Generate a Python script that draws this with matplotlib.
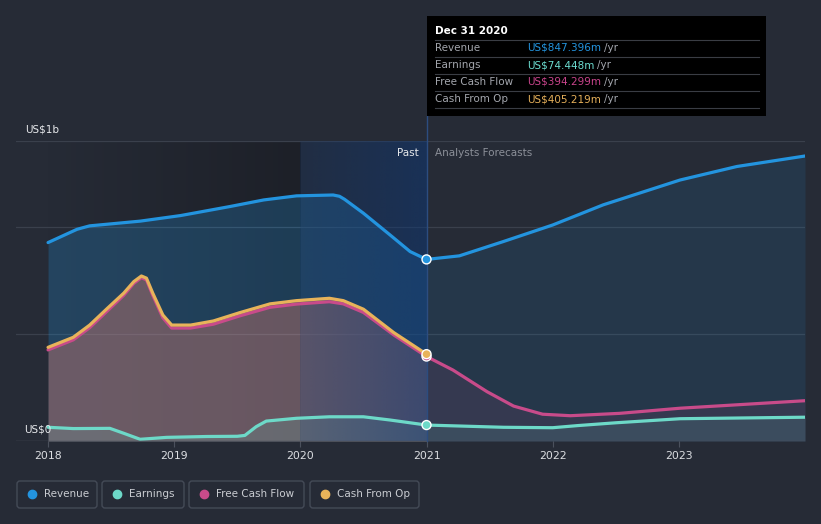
import matplotlib.pyplot as plt
import numpy as np
from matplotlib.patches import FancyBboxPatch, Rectangle
from matplotlib.transforms import IdentityTransform

# values in US$ millions, x in fractional years
rev_past_x = [2018.0, 2018.23, 2018.33, 2018.73, 2019.05, 2019.44, 2019.71, 2019.97, 2020.26, 2020.31, 2020.35, 2020.50, 2020.71, 2020.87, 2021.0]
rev_past_y = [926, 988, 1004, 1026, 1052, 1094, 1125, 1144, 1148, 1142, 1128, 1063, 962, 884, 847.4]
rev_fc_x = [2021.0, 2021.26, 2021.61, 2022.0, 2022.40, 2023.01, 2023.46, 2024.0]
rev_fc_y = [847.4, 864, 931, 1008, 1102, 1218, 1281, 1330]

cfo_x = [2018.0, 2018.20, 2018.33, 2018.47, 2018.60, 2018.68, 2018.74, 2018.78, 2018.83, 2018.91, 2018.98,
         2019.13, 2019.31, 2019.52, 2019.76, 2019.97, 2020.23, 2020.34, 2020.50, 2020.74, 2021.0]
cfo_y = [437, 484, 541, 619, 690, 744, 770, 760, 690, 588, 541, 541, 560, 599, 640, 655, 666, 655, 615, 506, 405.2]
fcf_past_y = [425, 472, 529, 607, 680, 736, 762, 752, 680, 575, 527, 527, 545, 584, 624, 639, 650, 640, 600, 495, 394.3]
fcf_fc_x = [2021.0, 2021.21, 2021.48, 2021.69, 2021.92, 2022.14, 2022.53, 2023.01, 2024.0]
fcf_fc_y = [394.3, 331, 230, 163, 125, 118, 129, 153, 188]

earn_past_x = [2018.0, 2018.20, 2018.49, 2018.60, 2018.73, 2018.94, 2019.26, 2019.50, 2019.56, 2019.65, 2019.73,
               2019.97, 2020.23, 2020.50, 2020.71, 2021.0]
earn_past_y = [64, 58, 59, 36, 8, 17, 21, 22, 26, 67, 93, 106, 113, 113, 98, 74.4]
earn_fc_x = [2021.0, 2021.61, 2022.0, 2022.2, 2022.5, 2023.01, 2024.0]
earn_fc_y = [74.4, 64, 62, 72, 85, 104, 111]

years = [2018, 2019, 2020, 2021, 2022, 2023]

C_REV = '#2394df'
C_EARN = '#6dd9c8'
C_FCF = '#c84b8a'
C_CFO = '#e8b35a'
BG = '#262b36'

W, H = 821, 524


def P(x, y):
    return x / W, 1 - y / H


fig = plt.figure(figsize=(W / 100, H / 100), dpi=100, facecolor=BG)
ax = fig.add_axes([16 / W, 1 - 441 / H, (805 - 16) / W, 300 / H])
ax.set_facecolor(BG)

# past background gradient
n = 400
c0 = np.array([38, 43, 54]) / 255
c1 = np.array([29, 32, 40]) / 255
t = np.linspace(0, 1, n)[:, None]
grad = (c0 * (1 - t) + c1 * t)[None, :, :]
ax.imshow(grad, extent=[2018, 2020, 0, 1400], aspect='auto', zorder=0, interpolation='bilinear')

# highlighted year band
band = np.zeros((1, n, 4))
band[..., :3] = np.array([13, 56, 120]) / 255
band[..., 3] = np.linspace(0.2, 0.5, n)
ax.imshow(band, extent=[2020, 2021, 0, 1400], aspect='auto', zorder=3, interpolation='bilinear')

# fills
ax.fill_between(rev_past_x, rev_past_y, 0, color=C_REV, alpha=0.25, lw=0, zorder=1)
ax.fill_between(rev_fc_x, rev_fc_y, 0, color=C_REV, alpha=0.12, lw=0, zorder=1)
ax.fill_between(cfo_x, fcf_past_y, 0, color=C_FCF, alpha=0.25, lw=0, zorder=2)
ax.fill_between(cfo_x, cfo_y, 0, color=C_CFO, alpha=0.2, lw=0, zorder=2)
ax.fill_between(fcf_fc_x, fcf_fc_y, 0, color=C_FCF, alpha=0.1, lw=0, zorder=2)
ax.fill_between(earn_past_x, earn_past_y, 0, color=C_EARN, alpha=0.15, lw=0, zorder=2)
ax.fill_between(earn_fc_x, earn_fc_y, 0, color=C_EARN, alpha=0.12, lw=0, zorder=2)

# lines
lk = dict(lw=2.3, zorder=5, solid_joinstyle='round', solid_capstyle='round')
ax.plot(rev_past_x, rev_past_y, color=C_REV, **lk)
ax.plot(rev_fc_x, rev_fc_y, color=C_REV, **lk)
ax.plot(cfo_x, fcf_past_y, color=C_FCF, **lk)
ax.plot(fcf_fc_x, fcf_fc_y, color=C_FCF, **lk)
ax.plot(cfo_x, cfo_y, color=C_CFO, **lk)
ax.plot(earn_past_x, earn_past_y, color=C_EARN, **lk)
ax.plot(earn_fc_x, earn_fc_y, color=C_EARN, **lk)

# grid
for v in [500, 1000, 1400]:
    ax.axhline(v, color='#3a404c', lw=0.9, zorder=0.5)
ax.axhline(0, color='#4b515d', lw=1, zorder=6)

# vertical marker line
ax.plot([2021, 2021], [0, 1517], color='#2c4d80', lw=1, zorder=4, clip_on=False)

# markers at the hovered point
ax.scatter([2021] * 4, [rev_past_y[-1], fcf_past_y[-1], cfo_y[-1], earn_past_y[-1]],
           c=[C_REV, C_FCF, C_CFO, C_EARN], s=42, edgecolors='white', linewidths=1, zorder=7)

ax.set_xlim(2017.746, 2024.0)
ax.set_ylim(0, 1400)
ax.set_xticks(years)
ax.set_xticklabels([str(y) for y in years])
ax.set_yticks([])
ax.tick_params(axis='x', colors='#4b515d', length=4, labelcolor='#dcdee2', labelsize=7.8, pad=3)
for s in ax.spines.values():
    s.set_visible(False)

fig.text(*P(25, 129), 'US$1b', color='#e6e8eb', fontsize=7.5, va='center')
fig.text(*P(24, 429), 'US$0', color='#e6e8eb', fontsize=7.5, va='center')
fig.text(*P(419, 153), 'Past', color='#e6e8eb', fontsize=7.5, va='center', ha='right')
fig.text(*P(435, 153), 'Analysts Forecasts', color='#8c9099', fontsize=7.5, va='center')

# tooltip
fig.patches.append(Rectangle(P(427, 116), 339 / W, 100 / H, transform=fig.transFigure,
                             facecolor='black', edgecolor='none', zorder=10))
fig.text(*P(435, 31), 'Dec 31 2020', color='white', fontsize=7.5, fontweight='bold', va='center', zorder=11)
rows = [('Revenue', 'US$847.396m', C_REV),
        ('Earnings', 'US$74.448m', '#6cdcd0'),
        ('Free Cash Flow', 'US$394.299m', '#c9448c'),
        ('Cash From Op', 'US$405.219m', '#e6b05a')]
fig.canvas.draw()
for i, (lab, val, col) in enumerate(rows):
    y = 48 + i * 17
    fig.text(*P(435, y), lab, color='#a3a6ad', fontsize=7.5, va='center', zorder=11)
    tt = fig.text(*P(527, y), val, color=col, fontsize=7.5, va='center', zorder=11)
    bb = tt.get_window_extent(renderer=fig.canvas.get_renderer())
    fig.text(bb.x1 / W + 3 / W, P(0, y)[1], '/yr', color='#a3a6ad', fontsize=7.5, va='center', zorder=11)
for y in [40, 57, 74, 91, 108]:
    fig.add_artist(plt.Line2D([435 / W, 759 / W], [1 - y / H] * 2, transform=fig.transFigure,
                              color='#3a3d44', lw=0.8, zorder=11))

# legend
items = [('Revenue', C_REV, 17, 97), ('Earnings', C_EARN, 102, 184),
         ('Free Cash Flow', C_FCF, 189, 304), ('Cash From Op', C_CFO, 310, 419)]
for lab, col, x0, x1 in items:
    fig.patches.append(FancyBboxPatch((x0, H - 508), x1 - x0, 27, boxstyle='round,pad=0,rounding_size=3',
                                      transform=IdentityTransform(), facecolor='none',
                                      edgecolor='#444b57', lw=1))
    fig.add_artist(plt.Line2D([(x0 + 15) / W], [1 - 494 / H], marker='o', markersize=6,
                              color=col, transform=fig.transFigure))
    fig.text(*P(x0 + 27, 494), lab, color='#c9ccd1', fontsize=7.5, va='center')

fig.savefig('out.png', dpi=100, facecolor=BG)
